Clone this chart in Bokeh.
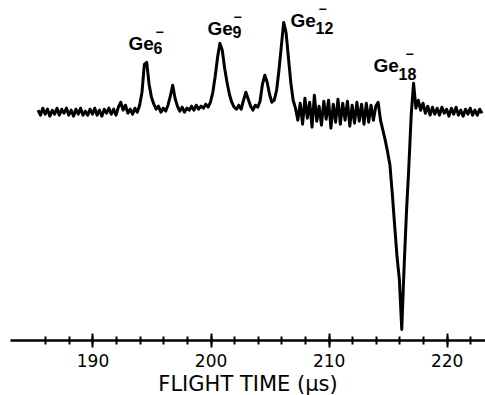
import numpy as np
from bokeh.plotting import figure
from bokeh.models import FixedTicker, Range1d, ColumnDataSource, Title
from bokeh.core.properties import value
from bokeh.embed import file_html
from bokeh.resources import INLINE

# ---- data ----
# detector signal sampled every 0.2 us starting at 185.35 us (arbitrary units, baseline = 0)
t_start = 185.35
t_step = 0.2
signal = [
    2, -3, 4, -2, 3,
    -4, 2, -2, 4, -3,
    3, -1, 4, -3, 2,
    -4, 3, -2, 4, -3,
    1, -3, 3, -2, 4,
    -3, 2, -4, 3, -1,
    4, -2, 3, -3, 5,
    10, 2, 7, -1, 3,
    -2, 4, 0, 7, 20,
    48, 50, 28, 15, 8,
    3, 6, 0, 4, 1,
    7, 16, 27, 14, 6,
    1, 5, 0, 4, 2,
    6, 2, 7, 3, 6,
    4, 8, 5, 10, 20,
    36, 55, 69, 62, 44,
    30, 18, 10, 5, 3,
    7, 3, 12, 20, 13,
    6, 2, 7, 5, 11,
    28, 37, 30, 18, 10,
    12, 22, 42, 66, 90,
    80, 55, 30, 12, 4,
    -8, 9, -12, 14, -6,
    10, -15, 17, -9, 6,
    -13, 11, -7, 12, -16,
    8, -10, 13, -12, 9,
    -8, 11, -14, 7, -11,
    10, -9, 8, -12, 9,
    -10, 7, -8, 6, 10,
    -8, -18, -28, -40, -53,
    -82, -114, -145, -168, -218,
    -155, -100, -55, -3, 29,
    4, 12, 2, 9, -1,
    6, -3, 5, -2, 4,
    -3, 5, -1, 3, -4,
    4, -2, 5, -3, 2,
    -4, 3, -2, 4, -3,
    2, -3, 3, -1,
]
times = t_start + t_step * np.arange(len(signal))

peak_species = ["Ge", "Ge", "Ge", "Ge"]
peak_sizes = ["6", "9", "12", "18"]
major_ticks = [190, 200, 210, 220]
minor_ticks = list(range(186, 223, 2))
x_title = "FLIGHT TIME (\u03bcs)"

# ---- layout of the annotation labels (data units) ----
label_x = [193.0, 199.7, 206.73, 213.76]
label_y = [69, 84, 92, 47]
sub_dy = [5, 4, 8, 9]
bar_dx = [27, 26, 28, 32]

p = figure(width=485, height=395,
           x_range=Range1d(183.013, 223.243), y_range=Range1d(-229, 112),
           output_backend="svg", toolbar_location=None, y_axis_type=None,
           min_border_left=10, min_border_right=0, min_border_top=0,
           min_border_bottom=54)
p.grid.visible = False
p.outline_line_color = None
p.background_fill_color = "white"
p.border_fill_color = "white"

ax = p.xaxis[0]
ax.ticker = FixedTicker(ticks=major_ticks, minor_ticks=minor_ticks)
ax.axis_line_width = 2.5
ax.axis_line_color = "black"
ax.major_tick_line_width = 2
ax.minor_tick_line_width = 2
ax.major_tick_line_color = "black"
ax.minor_tick_line_color = "black"
ax.major_tick_in = 7
ax.major_tick_out = 7
ax.minor_tick_in = 4
ax.minor_tick_out = 4
ax.major_label_text_font = "DejaVu Sans"
ax.major_label_text_font_size = "17px"
ax.major_label_text_color = "black"
ax.major_label_standoff = 6

p.add_layout(Title(text=x_title, align="center", offset=14, standoff=0,
                   text_font="DejaVu Sans", text_font_style="normal",
                   text_font_size="21px", text_color="black"), "below")

src = ColumnDataSource(dict(t=times, s=signal))
p.line("t", "s", source=src, line_width=3, line_color="black", line_join="round")

lab = ColumnDataSource(dict(x=label_x, y=label_y, ge=peak_species, n=peak_sizes,
                            sdy=sub_dy, bdx=bar_dx, bar=["\u2212"] * 4))
p.text(x="x", y="y", text="ge", source=lab, text_font=value("Liberation Sans"),
       text_font_style="bold", text_font_size="19px", text_color="black",
       text_align="left", text_baseline="alphabetic")
p.text(x="x", y="y", text="n", source=lab, x_offset=25, y_offset="sdy",
       text_font=value("Liberation Sans"), text_font_style="bold",
       text_font_size="16px", text_color="black",
       text_align="left", text_baseline="alphabetic")
p.text(x="x", y="y", text="bar", source=lab, x_offset="bdx", y_offset=-11,
       text_font=value("Liberation Sans"), text_font_style="bold",
       text_font_size="14px", text_color="black",
       text_align="left", text_baseline="alphabetic")

open("out.html", "w").write(file_html(p, INLINE))
